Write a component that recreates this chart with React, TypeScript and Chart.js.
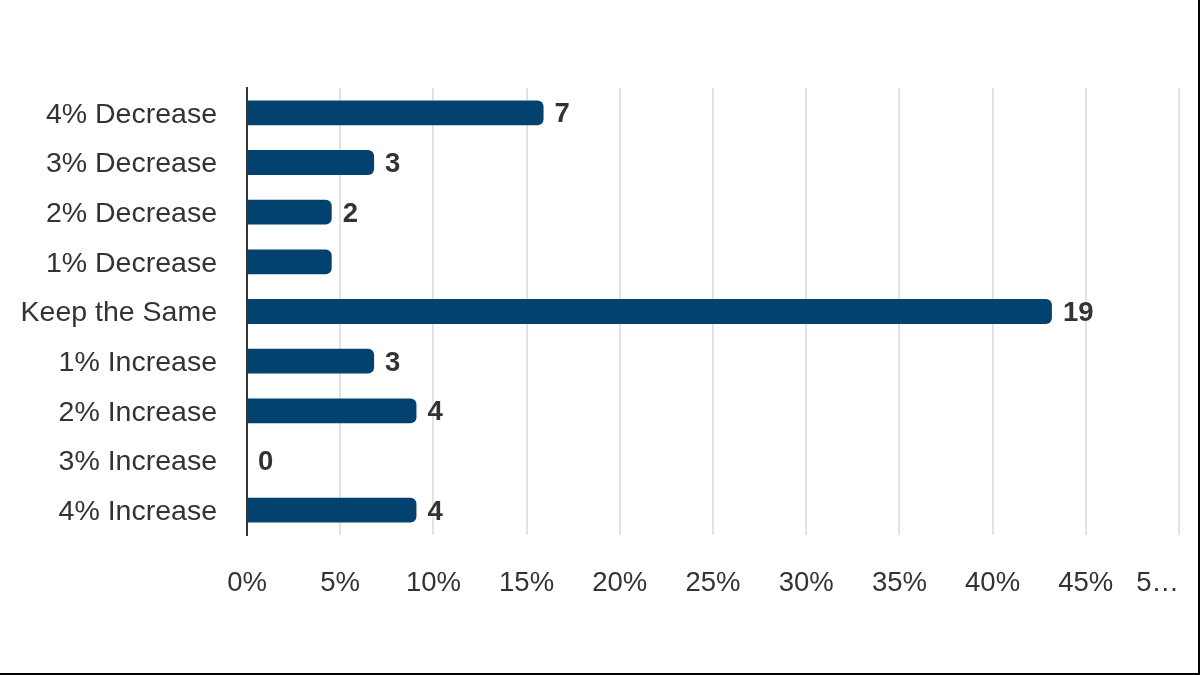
import React, { useEffect, useRef } from "react";
import { Chart, registerables } from "chart.js";

Chart.register(...registerables);

const categories = [
  "4% Decrease",
  "3% Decrease",
  "2% Decrease",
  "1% Decrease",
  "Keep the Same",
  "1% Increase",
  "2% Increase",
  "3% Increase",
  "4% Increase",
];

// Number of responses per option
const counts = [7, 3, 2, 2, 19, 3, 4, 0, 4];

// Whether the count is printed next to the bar
const showCount = [true, true, true, false, true, true, true, true, true];

const xTicks = [0, 5, 10, 15, 20, 25, 30, 35, 40, 45, 50];

const total = counts.reduce((a, b) => a + b, 0);
const shares = counts.map((c) => (c / total) * 100);

const FONT = "'Liberation Sans', Arial, Helvetica, sans-serif";
const TEXT = "#333333";
const BAR = "#03426f";

const countLabels = {
  id: "countLabels",
  afterDatasetsDraw(chart: any) {
    const { ctx } = chart;
    const meta = chart.getDatasetMeta(0);
    ctx.save();
    ctx.font = `bold 27.5px ${FONT}`;
    ctx.fillStyle = TEXT;
    ctx.textAlign = "left";
    ctx.textBaseline = "middle";
    meta.data.forEach((bar: any, i: number) => {
      if (!showCount[i]) return;
      ctx.fillText(String(counts[i]), bar.x + 11, bar.y + 2);
    });
    ctx.restore();
  },
};

// The last tick label is clipped with an ellipsis and ends at its gridline
const lastTick = {
  id: "lastTick",
  afterDraw(chart: any) {
    const { ctx } = chart;
    const xs = chart.scales.x;
    const v = xTicks[xTicks.length - 1];
    ctx.save();
    ctx.font = `27.5px ${FONT}`;
    ctx.fillStyle = TEXT;
    ctx.textAlign = "right";
    ctx.textBaseline = "middle";
    ctx.fillText(String(v).charAt(0) + "\u2026", xs.getPixelForValue(v), xs.top + 32 + 16.5);
    ctx.restore();
  },
};

export default function App() {
  const ref = useRef<HTMLCanvasElement | null>(null);

  useEffect(() => {
    document.body.style.margin = "0";
    const chart = new Chart(ref.current as HTMLCanvasElement, {
      type: "bar",
      data: {
        labels: categories,
        datasets: [
          {
            data: shares,
            backgroundColor: BAR,
            borderRadius: { topLeft: 0, bottomLeft: 0, topRight: 6, bottomRight: 6 },
            borderSkipped: false,
            barPercentage: 0.5,
            categoryPercentage: 1,
          },
        ],
      },
      options: {
        indexAxis: "y",
        animation: false,
        responsive: true,
        maintainAspectRatio: false,
        layout: { padding: { top: 88, right: 21, bottom: 43, left: 0 } },
        plugins: {
          legend: { display: false },
          tooltip: { enabled: false },
        },
        scales: {
          x: {
            min: xTicks[0],
            max: xTicks[xTicks.length - 1],
            afterBuildTicks(scale: any) {
              scale.ticks = xTicks.map((v) => ({ value: v }));
            },
            afterFit(scale: any) {
              scale.paddingLeft = 0;
              scale.paddingRight = 0;
            },
            grid: { color: "#e3e3e3", lineWidth: 2, drawTicks: false },
            border: { display: false },
            ticks: {
              padding: 32,
              color: TEXT,
              font: { family: FONT, size: 27.5 },
              maxRotation: 0,
              autoSkip: false,
              callback: (v: any) => (v === xTicks[xTicks.length - 1] ? "" : `${v}%`),
            },
          },
          y: {
            grid: { display: false, drawTicks: false },
            border: { display: true, color: TEXT, width: 2 },
            afterFit(scale: any) {
              scale.width = 247;
            },
            ticks: {
              padding: 30,
              labelOffset: 2,
              color: TEXT,
              font: { family: FONT, size: 28.5 },
              autoSkip: false,
            },
          },
        },
      },
      plugins: [countLabels, lastTick],
    });
    return () => chart.destroy();
  }, []);

  return (
    <div
      style={{
        position: "absolute",
        left: 0,
        top: 0,
        width: 1200,
        height: 675,
        background: "#ffffff",
      }}
    >
      <canvas ref={ref} />
      <div
        style={{
          position: "absolute",
          right: 0,
          top: 0,
          width: 2,
          height: 675,
          background: "#000000",
        }}
      />
      <div
        style={{
          position: "absolute",
          left: 0,
          bottom: 0,
          width: 1200,
          height: 2,
          background: "#000000",
        }}
      />
    </div>
  );
}
